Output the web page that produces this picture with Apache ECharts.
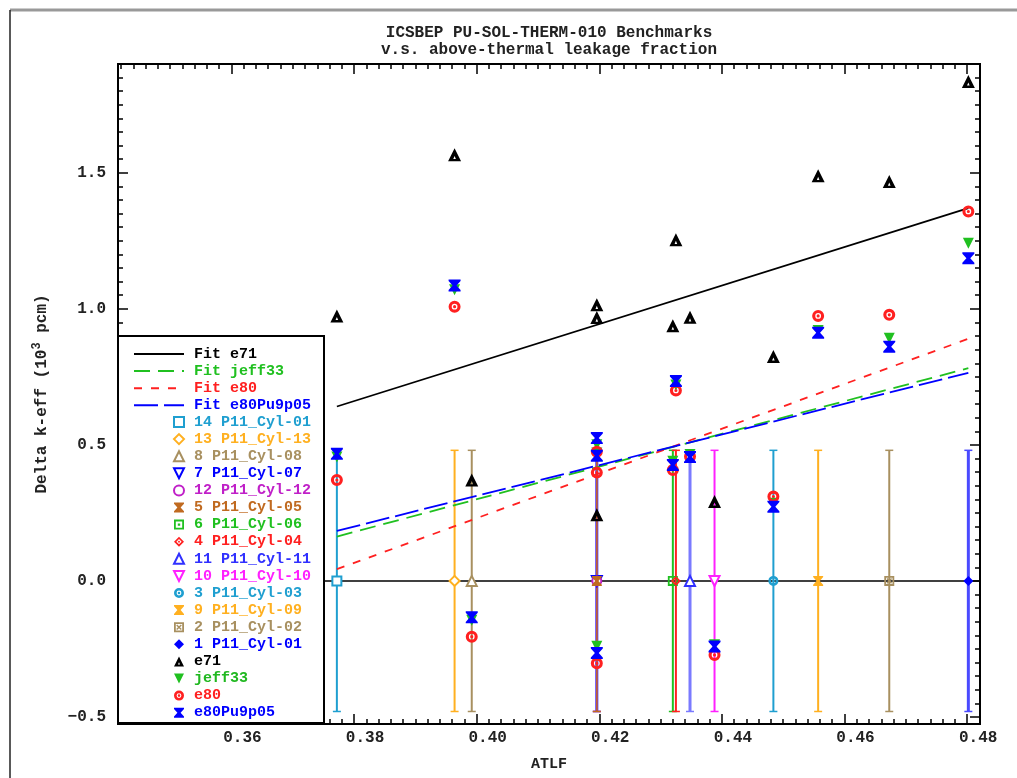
<!DOCTYPE html>
<html>
<head>
<meta charset="utf-8">
<script src="https://cdn.jsdelivr.net/npm/echarts@6/dist/echarts.min.js"></script>
<style>html,body{margin:0;padding:0;background:#fff}#c{width:1017px;height:778px}</style>
</head>
<body>
<div id="c"></div>
<script>
// ---------------- data ----------------
const caseNames = ['14 P11_Cyl-01','13 P11_Cyl-13','8 P11_Cyl-08','7 P11_Cyl-07','12 P11_Cyl-12','5 P11_Cyl-05','6 P11_Cyl-06','4 P11_Cyl-04','11 P11_Cyl-11','10 P11_Cyl-10','3 P11_Cyl-03','9 P11_Cyl-09','2 P11_Cyl-02','1 P11_Cyl-01'];
const atlf     = [0.3772, 0.3964, 0.3992, 0.4196, 0.4196, 0.4196, 0.4320, 0.4325, 0.4348, 0.4388, 0.4484, 0.4557, 0.4673, 0.4802];
const benchUnc = [0.48, 0.48, 0.48, 0.48, 0.48, 0.48, 0.48, 0.48, 0.48, 0.48, 0.48, 0.48, 0.48, 0.48];
const e71       = [0.974, 1.566, 0.371, 1.015, 0.968, 0.243, 0.938, 1.254, 0.969, 0.292, 0.825, 1.489, 1.468, 1.836];
const jeff33    = [0.455, 1.070, -0.145, 0.500, 0.470, -0.240, 0.440, 0.720, 0.465, -0.235, 0.285, 0.920, 0.892, 1.241];
const e80       = [0.371, 1.008, -0.205, 0.475, 0.398, -0.303, 0.408, 0.700, 0.457, -0.272, 0.310, 0.974, 0.978, 1.358];
const e80Pu9p05 = [0.467, 1.086, -0.134, 0.525, 0.460, -0.265, 0.426, 0.735, 0.455, -0.241, 0.273, 0.912, 0.861, 1.186];
const fitX      = [0.3772, 0.4802];
const fitE71    = [0.641, 1.370];
const fitJeff33 = [0.163, 0.782];
const fitE80    = [0.043, 0.890];
const fitPu     = [0.184, 0.765];
const xMajorTicks = [0.36, 0.38, 0.40, 0.42, 0.44, 0.46, 0.48];
const yMajorTicks = [-0.5, 0.0, 0.5, 1.0, 1.5];
const xRange = [0.3415, 0.4821];
const yRange = [-0.526, 1.900];

// ---------------- styles ----------------
const MONO = "'Liberation Mono','DejaVu Sans Mono',monospace";
const SYM = {
  hourglass: 'path://M0,0L10,0L10,1.2L6.6,5L10,8.8L10,10L0,10L0,8.8L3.4,5L0,1.2Z',
  ringDot: 'path://M5,0A5,5,0,1,1,5,10A5,5,0,1,1,5,0Z M5,2.6A2.4,2.4,0,1,0,5,7.4A2.4,2.4,0,1,0,5,2.6Z M5,3.7A1.3,1.3,0,1,1,5,6.3A1.3,1.3,0,1,1,5,3.7Z',
  sqDot: 'path://M0,0L10,0L10,10L0,10Z M1.8,1.8L1.8,8.2L8.2,8.2L8.2,1.8Z M3.8,3.8L6.2,3.8L6.2,6.2L3.8,6.2Z',
  sqX: 'path://M0,0L10,0L10,10L0,10Z M1.8,1.8L1.8,8.2L8.2,8.2L8.2,1.8Z M2.2,3.2L3.2,2.2L7.8,6.8L6.8,7.8Z M6.8,2.2L7.8,3.2L3.2,7.8L2.2,6.8Z',
  diaDot: 'path://M5,0L10,5L5,10L0,5Z M5,2.4L2.4,5L5,7.6L7.6,5Z M5,3.8L6.2,5L5,6.2L3.8,5Z',
  triBold: 'path://M5,0L10,10L0,10Z M5,5.8L4,8.2L6,8.2Z',
  downTri: 'path://M0,0L10,0L5,10Z'
};
// per case: [symbol, color, open?, size, barColor, barWidth]
const caseStyle = [
  ['rect',        '#1f9fd0', true, 9,  '#1f9fd0', 2],
  ['diamond',     '#ffb020', true, 10, '#ffb020', 2],
  ['triangle',    '#a89060', true, 10, '#a89060', 2],
  [SYM.downTri,   '#0000ff', true, 10, '#3030ff', 3],
  ['circle',      '#c020c8', true, 9,  '#c020c8', 2],
  [SYM.hourglass, '#c06a20', false, 10, '#c06a20', 1.5],
  [SYM.sqDot,     '#20c020', false, 10, '#20c020', 2],
  [SYM.diaDot,    '#ff2020', false, 10, '#ff2020', 2],
  ['triangle',    '#3030ff', true, 10, '#7a7aff', 3],
  [SYM.downTri,   '#ff20ff', true, 10, '#ff20ff', 2],
  [SYM.ringDot,   '#1f9fd0', false, 10, '#1f9fd0', 2],
  [SYM.hourglass, '#ffb020', false, 10, '#ffb020', 2],
  [SYM.sqX,       '#a89060', false, 10, '#a89060', 2],
  ['diamond',     '#0000ff', false, 10, '#4a4aff', 3]
];
const models = [
  {name: 'e71',       data: e71,       symbol: SYM.triBold,   color: '#000000', size: 13},
  {name: 'jeff33',    data: jeff33,    symbol: SYM.downTri,   color: '#20c020', size: 11},
  {name: 'e80',       data: e80,       symbol: SYM.ringDot,   color: '#ff2020', size: 12},
  {name: 'e80Pu9p05', data: e80Pu9p05, symbol: SYM.hourglass, color: '#0000ff', size: 12}
];
const fits = [
  {name: 'Fit e71',       data: fitE71,    color: '#000000', type: 'solid'},
  {name: 'Fit jeff33',    data: fitJeff33, color: '#20c020', type: [16, 8]},
  {name: 'Fit e80',       data: fitE80,    color: '#ff2020', type: [8, 9]},
  {name: 'Fit e80Pu9p05', data: fitPu,     color: '#0000ff', type: [24, 6]}
];

// minor tick positions (axis decoration)
const xMinor = []; for (let k = 171; k <= 241; k++) xMinor.push(k / 500);
const yMinor = []; for (let k = -10; k <= 37; k++) yMinor.push(k / 20);

// ---------------- axes ----------------
function mkAxis(pos, range, ticks, len, labels, isX) {
  return {
    type: 'value', position: pos, min: range[0], max: range[1],
    axisLine: {show: true, onZero: false, lineStyle: {color: '#000', width: 2}},
    axisTick: {show: true, inside: true, length: len, customValues: ticks, lineStyle: {color: '#000', width: 1.5}},
    axisLabel: labels ? Object.assign({
      show: true, customValues: ticks, color: '#222', fontFamily: MONO, fontSize: 16, fontWeight: 'bold'
    }, isX ? {formatter: v => v.toFixed(2), margin: 6, padding: [0, 0, 0, 22]}
           : {formatter: v => (v < 0 ? '\u2212' : '') + Math.abs(v).toFixed(1), margin: 12, padding: [0, 0, 4, 0]}) : {show: false},
    splitLine: {show: false}
  };
}
const xAxes = [
  mkAxis('bottom', xRange, xMajorTicks, 10, true, true),
  mkAxis('bottom', xRange, xMinor, 5, false, true),
  mkAxis('top', xRange, xMajorTicks, 10, false, true),
  mkAxis('top', xRange, xMinor, 5, false, true)
];
const yAxes = [
  mkAxis('left', yRange, yMajorTicks, 10, true, false),
  mkAxis('left', yRange, yMinor, 5, false, false),
  mkAxis('right', yRange, yMajorTicks, 10, false, false),
  mkAxis('right', yRange, yMinor, 5, false, false)
];

// ---------------- series ----------------
const series = [];
series.push({
  type: 'line', name: 'zero', data: [[xRange[0], 0], [xRange[1], 0]],
  symbol: 'none', silent: true, z: 1, lineStyle: {color: '#000', width: 1.5}
});
series.push({
  type: 'custom', name: 'bars', silent: true, z: 2,
  data: atlf.map((x, i) => [x, -benchUnc[i], benchUnc[i], i]),
  encode: {x: 0, y: [1, 2]},
  renderItem: function (params, api) {
    const i = api.value(3);
    const lo = api.coord([api.value(0), api.value(1)]);
    const hi = api.coord([api.value(0), api.value(2)]);
    const c = caseStyle[i][4], w = caseStyle[i][5];
    const st = {stroke: c, lineWidth: w, opacity: i === 4 ? 0.7 : 1};
    return {type: 'group', children: [
      {type: 'line', shape: {x1: lo[0], y1: lo[1], x2: hi[0], y2: hi[1]}, style: st},
      {type: 'line', shape: {x1: lo[0] - 4, y1: lo[1], x2: lo[0] + 4, y2: lo[1]}, style: {stroke: c, lineWidth: 1.5}},
      {type: 'line', shape: {x1: hi[0] - 4, y1: hi[1], x2: hi[0] + 4, y2: hi[1]}, style: {stroke: c, lineWidth: 1.5}}
    ]};
  }
});
fits.forEach(f => series.push({
  type: 'line', name: f.name, z: 3, symbol: 'none', showSymbol: false, silent: true,
  data: [[fitX[0], f.data[0]], [fitX[1], f.data[1]]],
  itemStyle: {color: f.color},
  lineStyle: {color: f.color, width: 1.8, type: f.type}
}));
caseNames.forEach((n, i) => {
  const s = caseStyle[i];
  series.push({
    type: 'scatter', name: n, z: 4, symbol: s[0], symbolSize: s[3], symbolKeepAspect: true,
    data: [[atlf[i], 0]],
    itemStyle: s[2] ? {color: '#fff', borderColor: s[1], borderWidth: 2, opacity: 1}
                    : {color: s[1], borderWidth: 0, opacity: 1}
  });
});
models.forEach(m => series.push({
  type: 'scatter', name: m.name, z: 5, symbol: m.symbol, symbolSize: m.size, symbolKeepAspect: true,
  data: atlf.map((x, i) => [x, m.data[i]]),
  itemStyle: {color: m.color, borderWidth: 0, opacity: 1}
}));

// ---------------- legend ----------------
const legText = {fontFamily: MONO, fontSize: 15, fontWeight: 'bold', lineHeight: 15, padding: [0, 0, 0, 5]};
const legends = [
  {orient: 'vertical', left: 128, top: 341.5, itemWidth: 50, itemHeight: 10, itemGap: 2.1,
   selectedMode: false, z: 6, textStyle: legText,
   data: fits.map(f => ({name: f.name, textStyle: {color: f.color},
                         itemStyle: {color: 'rgba(0,0,0,0)', borderColor: 'rgba(0,0,0,0)', borderWidth: 0, opacity: 0}}))},
  {orient: 'vertical', left: 168, top: 409.5, itemWidth: 10, itemHeight: 10, itemGap: 2.1,
   selectedMode: false, z: 6, textStyle: legText,
   data: caseNames.map((n, i) => ({name: n, textStyle: {color: caseStyle[i][1]}}))
     .concat(models.map(m => ({name: m.name, textStyle: {color: m.color === '#20c020' ? '#20b820' : m.color}})))}
];

const chart = echarts.init(document.getElementById('c'), null, {renderer: 'canvas'});
chart.setOption({
  backgroundColor: '#fff',
  animation: false,
  grid: {left: 118, right: 37, top: 64, bottom: 54},
  xAxis: xAxes,
  yAxis: yAxes,
  legend: legends,
  series: series,
  graphic: [
    {type: 'line', z: 10, shape: {x1: 10, y1: 10, x2: 1017, y2: 10}, style: {stroke: '#999', lineWidth: 3}},
    {type: 'line', z: 10, shape: {x1: 10, y1: 10, x2: 10, y2: 778}, style: {stroke: '#222', lineWidth: 1.5}},
    {type: 'rect', z: 3, shape: {x: 118, y: 336, width: 206, height: 387}, style: {fill: '#fff', stroke: '#000', lineWidth: 2}},
    {type: 'text', z: 10, x: 549, y: 33, style: {text: 'ICSBEP PU-SOL-THERM-010 Benchmarks', fontFamily: MONO, fontSize: 16, fontWeight: 'bold', fill: '#222', align: 'center', verticalAlign: 'middle'}},
    {type: 'text', z: 10, x: 549, y: 50, style: {text: 'v.s. above-thermal leakage fraction', fontFamily: MONO, fontSize: 16, fontWeight: 'bold', fill: '#222', align: 'center', verticalAlign: 'middle'}},
    {type: 'text', z: 10, x: 549, y: 764, style: {text: 'ATLF', fontFamily: MONO, fontSize: 15, fontWeight: 'bold', fill: '#222', align: 'center', verticalAlign: 'middle'}},
    {type: 'text', z: 10, x: 42, y: 394, rotation: Math.PI / 2,
     style: {text: 'Delta k-eff (10{sup|3} pcm)', fontFamily: MONO, fontSize: 16, fontWeight: 'bold', fill: '#222', align: 'center', verticalAlign: 'middle', lineHeight: 22,
             rich: {sup: {fontFamily: MONO, fontSize: 12, fontWeight: 'bold', fill: '#222', verticalAlign: 'top', lineHeight: 12}}}}
  ]
});
</script>
</body>
</html>
